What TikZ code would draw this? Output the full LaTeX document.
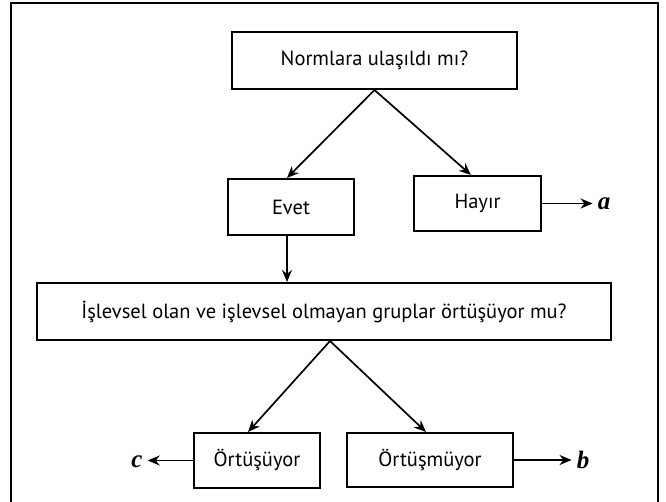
\documentclass[tikz,border=0pt]{standalone}
\usepackage{fontspec}
\setmainfont{PT Sans}
\newfontfamily\abcfont{Liberation Serif}
\usetikzlibrary{arrows.meta,calc}
\begin{document}
\begin{tikzpicture}[x=1pt,y=-1pt,
  box/.style={draw, line width=2pt, inner sep=0pt, font=\fontsize{20.5}{22}\selectfont},
  arr/.style={-{Stealth[length=12pt,width=10pt]}, line width=1.7pt},
  lbl/.style={font=\abcfont\bfseries\itshape\fontsize{25}{25}\selectfont, inner sep=0pt}]
\useasboundingbox (0,0) rectangle (666,502);
\draw[line width=1.2pt] (11,502) -- (11,3) -- (658,3) -- (658,502);
\node[box, minimum width=285pt, minimum height=57pt] (top) at (374.5,60.5) {Normlara ulaşıldı mı?};
\node[box, minimum width=126pt, minimum height=56pt] (evet) at (291,207) {Evet};
\node[box, minimum width=127pt, minimum height=55pt] (hayir) at (477.5,203.5) {Hayır};
\node[box, minimum width=574pt, minimum height=57pt] (big) at (324,311.5) {İşlevsel olan ve işlevsel olmayan gruplar örtüşüyor mu?};
\node[box, minimum width=126pt, minimum height=55pt] (ortu) at (257,460.5) {Örtüşüyor};
\node[box, minimum width=166pt, minimum height=54pt] (ortm) at (430,460) {Örtüşmüyor};
\node[lbl] (a) at (604,204) {a};
\node[lbl] (b) at (583,460) {b};
\node[lbl] (c) at (137,462) {c};
\draw[arr] (top.south) -- ($(evet.north)+(-4,0)$);
\draw[arr] (top.south) -- ($(hayir.north)+(-6.5,0)$);
\coordinate (ed) at ($(evet.south)+(-4,0)$);
\draw[arr] (ed) -- (ed |- big.north);
\coordinate (bs) at ($(big.south)+(6,0)$);
\draw[arr] (bs) -- ($(ortu.north)+(-9,0)$);
\draw[arr] (bs) -- ($(ortm.north)+(-4,0)$);
\draw[arr, shorten >=5pt] (hayir.east) -- (a.west |- hayir.east);
\draw[arr, shorten >=5pt] (ortm.east) -- (b.west |- ortm.east);
\draw[arr, shorten >=5pt] (ortu.west) -- (c.east |- ortu.west);
\end{tikzpicture}
\end{document}
